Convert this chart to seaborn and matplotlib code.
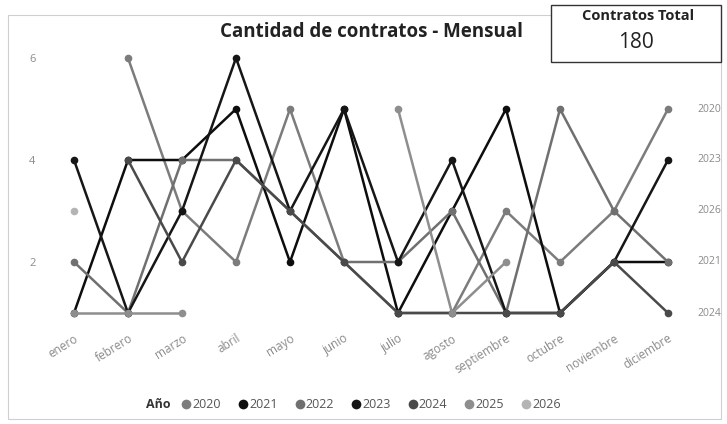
import numpy as np
import pandas as pd
import matplotlib
matplotlib.use("Agg")
import matplotlib.pyplot as plt
from matplotlib.lines import Line2D
from matplotlib.patches import Rectangle
import seaborn as sns

nan = np.nan
meses = ["enero", "febrero", "marzo", "abril", "mayo", "junio", "julio",
         "agosto", "septiembre", "octubre", "noviembre", "diciembre"]

# contratos por mes y año
y2020 = [nan, 6, 3, 2, 5, 2, 1, 1, 3, 2, 3, 5]
y2021 = [1, 4, 4, 5, 2, 5, 1, 3, 5, 1, 2, 2]
y2022 = [2, 1, 4, 4, 3, 2, 2, 3, 1, 5, 3, 2]
y2023 = [4, 1, 3, 6, 3, 5, 2, 4, 1, 1, 2, 4]
y2024 = [nan, 4, 2, 4, 3, 2, 1, 1, 1, 1, 2, 1]
y2025 = [1, 1, 1, nan, nan, nan, 5, 1, 2, nan, nan, nan]
y2026 = [3, nan, nan, nan, nan, nan, nan, nan, nan, nan, nan, nan]

years = ["2020", "2021", "2022", "2023", "2024", "2025", "2026"]
series = [y2020, y2021, y2022, y2023, y2024, y2025, y2026]
colors = ["#7c7c7c", "#0d0d0d", "#707070", "#161616", "#4a4a4a", "#8e8e8e", "#b4b4b4"]
total = 180

# etiquetas a la derecha (año, nivel)
end_names = ["2025", "2020", "2023", "2026", "2021", "2024"]
end_levels = [6, 5, 4, 3, 2, 1]

rows = []
for yr, vals in zip(years, series):
    seg = 0
    prev_nan = True
    for i, v in enumerate(vals):
        if np.isnan(v):
            prev_nan = True
            continue
        if prev_nan:
            seg += 1
            prev_nan = False
        rows.append({"mes": i, "cantidad": v, "year": yr, "seg": f"{yr}-{seg}"})
df = pd.DataFrame(rows)

sns.set_style("white")
plt.rcParams["font.family"] = ["Open Sans", "DejaVu Sans"]

W, H = 727, 424
fig = plt.figure(figsize=(W / 100, H / 100), dpi=100)
# plot area in pixels: left 55, right 690, top 45, bottom 325
ax = fig.add_axes([55 / W, 1 - 325 / H, (690 - 55) / W, (325 - 45) / H])

pal = dict(zip(years, colors))
sns.lineplot(data=df, x="mes", y="cantidad", hue="year", units="seg",
             estimator=None, palette=pal, hue_order=years, linewidth=1.8,
             marker="o", markersize=5.5, markeredgewidth=0, legend=False,
             ax=ax, sort=True)

ax.set_xlim((55 - 74) / 54, (690 - 74) / 54)
ax.set_ylim(1 - 12 / 51, 1 + 268 / 51)
ax.set_xticks(range(12))
ax.set_xticklabels(meses, rotation=32, ha="right", rotation_mode="anchor",
                   fontsize=8.5, color="#8a8a8a")
ax.set_yticks([2, 4, 6])
ax.set_yticklabels(["2", "4", "6"], fontsize=8, color="#8a8a8a")
ax.tick_params(axis="both", length=0)
ax.tick_params(axis="y", pad=14)
ax.tick_params(axis="x", pad=5)
ax.set_xlabel("")
ax.set_ylabel("")
for s in ax.spines.values():
    s.set_visible(False)
ax.patch.set_alpha(0)

# etiquetas de serie a la derecha
for name, lvl in zip(end_names, end_levels):
    ax.text(1.011, lvl, name, transform=ax.get_yaxis_transform(),
            fontsize=7.5, color="#8a8a8a", va="center", ha="left", clip_on=False)

fig.text(371 / W, 1 - 32 / H, "Cantidad de contratos - Mensual",
         fontsize=13.5, fontweight="bold", color="#222222", ha="center", va="center")

# marco exterior
fig.add_artist(Rectangle((8 / W, 1 - 419 / H), (721 - 8) / W, (419 - 15) / H,
                         transform=fig.transFigure, fill=False,
                         edgecolor="#cfcfcf", linewidth=0.8, zorder=0))

# tarjeta de total
fig.add_artist(Rectangle((551 / W, 1 - 62 / H), (721 - 551) / W, (62 - 5) / H,
                         transform=fig.transFigure, facecolor="white",
                         edgecolor="#333333", linewidth=1.0, zorder=5))
fig.text(638 / W, 1 - 16 / H, "Contratos Total", fontsize=10.5, fontweight="bold",
         color="#222222", ha="center", va="center", zorder=6)
fig.text(636 / W, 1 - 42 / H, str(total), fontsize=15,
         color="#222222", ha="center", va="center", zorder=6)

# leyenda
fig.text(146 / W, 1 - 405 / H, "Año", fontsize=9, fontweight="bold",
         color="#333333", ha="left", va="center")
handles = [Line2D([], [], marker="o", linestyle="", markersize=7,
                  markerfacecolor=c, markeredgewidth=0) for c in colors]
fig.legend(handles, years, loc="center left", bbox_to_anchor=(180 / W, 1 - 405 / H),
           ncol=7, frameon=False, fontsize=9, handletextpad=0.0,
           columnspacing=1.25, handlelength=1.0, labelcolor="#555555",
           borderaxespad=0, borderpad=0)

fig.savefig("out.png", dpi=100, facecolor="white")
